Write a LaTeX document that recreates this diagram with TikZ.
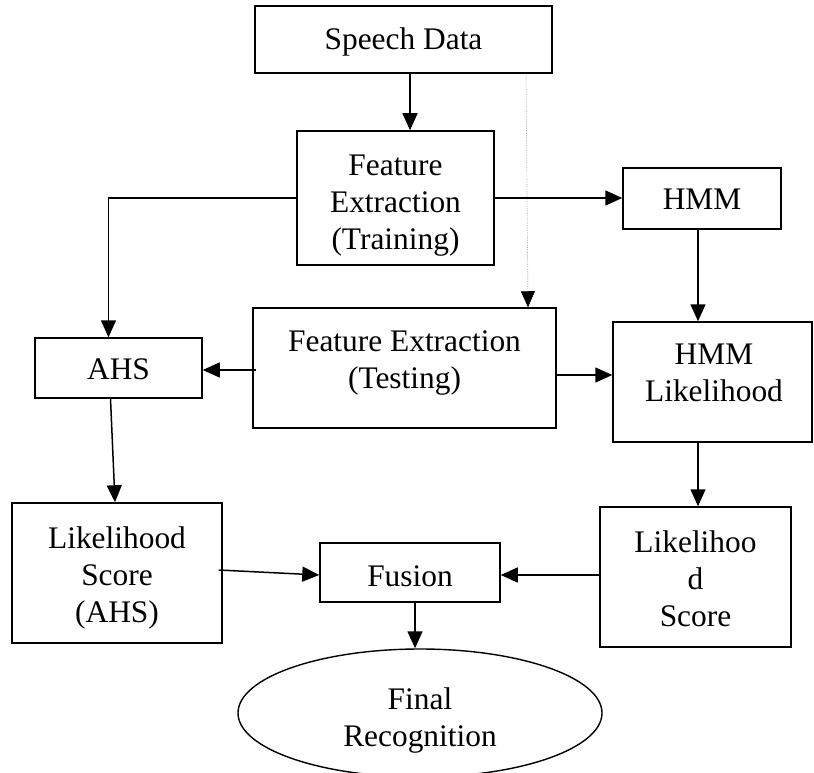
\documentclass[tikz,border=0pt]{standalone}
\usepackage{fontspec}
\setmainfont{Liberation Serif}
\usetikzlibrary{arrows.meta,shapes.geometric}

\tikzset{
  box/.style={draw, line width=1.5pt, inner sep=0pt, align=center},
  oval/.style={draw, ellipse, line width=1.4pt, inner sep=0pt, align=center},
  txt/.style={inner sep=0pt, align=center},
  arr/.style={line width=1.5pt, -{Triangle[length=17pt,width=15pt]}},
  faint/.style={draw=gray!70, line width=0.7pt, densely dotted,
                -{Triangle[length=16pt,width=14pt,color=black]}}
}

\begin{document}
\begin{tikzpicture}[x=1pt, y=-1pt, font=\fontsize{31.4}{37}\selectfont]
  \useasboundingbox (0,0) rectangle (814,773);

  % boxes and their labels
  \node[box, minimum width=297pt, minimum height=67pt] (sd) at (403.5,39.5) {};
  \node[txt] (sdlabel) at (403.5,42) {Speech Data};
  \node[box, minimum width=197pt, minimum height=134pt] (fet) at (395.5,198) {};
  \node[txt] (fetlabel) at (395.5,206) {Feature\\Extraction\\(Training)};
  \node[box, minimum width=158pt, minimum height=61pt] (hmm) at (702,198.5) {};
  \node[txt] (hmmlabel) at (702,199) {HMM};
  \node[box, minimum width=167pt, minimum height=60pt] (ahs) at (118.5,368) {};
  \node[txt] (ahslabel) at (118.5,369) {AHS};
  \node[box, minimum width=303pt, minimum height=120pt] (fetest) at (404.5,368) {};
  \node[txt] (fetestlabel) at (404.5,363) {Feature Extraction\\(Testing)};
  \node[box, minimum width=199pt, minimum height=120pt] (hmml) at (712.5,382) {};
  \node[txt] (hmmllabel) at (714,373) {HMM\\Likelihood};
  \node[box, minimum width=210pt, minimum height=140pt] (lsa) at (117,573) {};
  \node[txt] (lsalabel) at (117,578) {Likelihood\\Score\\(AHS)};
  \node[box, minimum width=180pt, minimum height=59pt] (fusion) at (410,572.5) {};
  \node[txt] (fusionlabel) at (410,576) {Fusion};
  \node[box, minimum width=191pt, minimum height=140pt] (ls) at (695.5,577) {};
  \node[txt] (lslabel) at (695.5,579) {Likelihoo\\d\\Score};
  \node[oval, minimum width=364pt, minimum height=128pt] (final) at (420,713) {};
  \node[txt] (finallabel) at (420,720) {Final\\Recognition};

  % connectors
  \draw[arr] ([xshift=6.5pt]sd.south) -- ([xshift=14.5pt]fet.north);
  \draw[faint] ([xshift=122.5pt]sd.south) -- ([xshift=123.5pt]fetest.north);
  \draw[arr] (fet.west) -| ([xshift=-10pt]ahs.north);
  \draw[arr] (fet.east) -- (fet.east -| hmm.west);
  \draw[arr] ([xshift=-4pt]hmm.south) -- ([xshift=-4pt]hmm.south |- hmml.north);
  \draw[arr] ([xshift=4pt,yshift=-2pt]fetest.west) -- ([yshift=-2pt]ahs.east);
  \draw[arr] ([yshift=-7pt]fetest.east) -- ([yshift=-7pt]fetest.east -| hmml.west);
  \draw[arr] ([xshift=-8pt]ahs.south) -- ([xshift=-2pt]lsa.north);
  \draw[arr] ([xshift=-14.5pt]hmml.south) -- ([xshift=2.5pt]ls.north);
  \draw[arr] ([xshift=-4pt,yshift=3pt]lsa.east) -- ([yshift=-2.5pt]fusion.west);
  \draw[arr] ([yshift=2pt]ls.west) -- ([yshift=-2.5pt]fusion.east);
  \draw[arr] ([xshift=5pt]fusion.south) -- ([xshift=-5pt]final.north);
\end{tikzpicture}
\end{document}
